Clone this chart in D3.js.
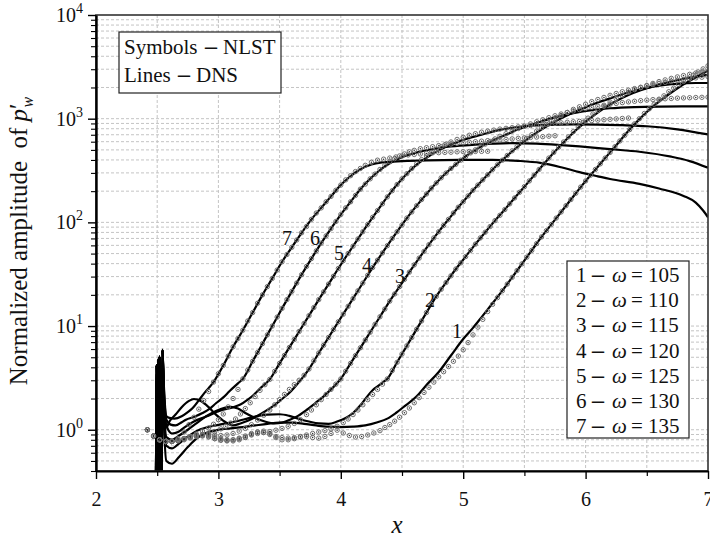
<!DOCTYPE html>
<html>
<head>
<meta charset="utf-8">
<script src="https://cdn.jsdelivr.net/npm/d3@7"></script>
<style>
  body { margin: 0; background: #fff; }
  svg text { font-family: "Liberation Serif", Tinos, "Times New Roman", Times, serif; fill: #111; }
</style>
</head>
<body>
<div id="chart-container"></div>
<script>
// axis ticks
const xTicks = [2, 3, 4, 5, 6, 7];
const xMinorTicks = [2.5, 3.5, 4.5, 5.5, 6.5];
const yDecades = [1, 10, 100, 1000, 10000];

// legend texts
const omegas = [105, 110, 115, 120, 125, 130, 135];
const curveNames = ["1", "2", "3", "4", "5", "6", "7"];
const legendNotes = [["Symbols", "NLST"], ["Lines", "DNS"]];

// where the curve numbers sit (x, amplitude)
const curveLabelAt = [[4.949, 7.71], [4.729, 15.4], [4.484, 26.2], [4.214, 33.4], [3.985, 43.6], [3.789, 60.8], [3.56, 60.8]];

// DNS inlet disturbance, shared by every DNS run
const dnsInlet = [[2.49, 0.3], [2.496, 4.2], [2.502, 0.3], [2.508, 4.8], [2.514, 0.3], [2.52, 5.1], [2.526, 0.3], [2.532, 4.0], [2.537, 0.3], [2.543, 5.9]];

// DNS (lines)
const dns1 = [[2.555,1.3],[2.575,0.5],[2.62,0.47],[2.68,0.55],[2.75,0.68],[2.82,0.82],[2.9,0.93],[3.0,1.0],[3.1,1.03],[3.2,1.06],[3.3,1.1],[3.4,1.14],[3.5,1.17],[3.6,1.17],[3.7,1.14],[3.8,1.1],[3.9,1.07],[4.0,1.06],[4.1,1.07],[4.2,1.1],[4.3,1.18],[4.38,1.28],[4.45,1.45],[4.53,1.72],[4.62,2.1],[4.7,2.7],[4.8,3.6],[4.9,5.2],[5.0,7.5],[5.08,9.6],[5.16,12.6],[5.24,16.6],[5.32,22.0],[5.4,29.5],[5.48,39.8],[5.56,53.7],[5.64,72.4],[5.72,95.5],[5.8,126],[5.88,166],[5.96,219],[6.04,285],[6.12,367],[6.2,473],[6.28,610],[6.36,785],[6.44,990],[6.52,1220],[6.6,1460],[6.68,1720],[6.76,2000],[6.84,2280],[6.92,2580],[7.0,2900]];
const dns2 = [[2.555,1.5],[2.575,0.7],[2.62,0.66],[2.68,0.74],[2.75,0.86],[2.82,0.97],[2.9,1.05],[2.98,1.1],[3.06,1.15],[3.14,1.2],[3.22,1.27],[3.3,1.34],[3.4,1.4],[3.5,1.41],[3.58,1.36],[3.66,1.27],[3.74,1.2],[3.82,1.15],[3.9,1.14],[3.97,1.2],[4.04,1.3],[4.1,1.45],[4.16,1.72],[4.21,2.05],[4.26,2.4],[4.3,2.62],[4.34,2.85],[4.38,3.09],[4.46,4.47],[4.54,6.46],[4.62,9.33],[4.7,13.5],[4.78,19.3],[4.86,26.3],[4.94,35.5],[5.02,46.8],[5.1,61.7],[5.18,80.4],[5.26,104],[5.34,133],[5.42,172],[5.5,221],[5.58,285],[5.66,367],[5.74,470],[5.82,590],[5.9,735],[5.98,890],[6.06,1060],[6.15,1260],[6.25,1480],[6.35,1690],[6.45,1880],[6.55,2050],[6.65,2210],[6.75,2350],[6.85,2480],[6.93,2570],[7.0,2650]];
const dns3 = [[2.555,1.8],[2.575,0.85],[2.62,0.8],[2.68,0.88],[2.75,1.0],[2.82,1.15],[2.9,1.35],[2.98,1.52],[3.05,1.63],[3.1,1.66],[3.16,1.6],[3.22,1.45],[3.3,1.3],[3.38,1.2],[3.46,1.15],[3.52,1.17],[3.585,1.25],[3.65,1.36],[3.72,1.55],[3.79,1.8],[3.86,2.1],[3.92,2.45],[4.0,3.09],[4.08,4.37],[4.16,6.17],[4.24,8.71],[4.32,12.3],[4.4,17.4],[4.48,24.0],[4.56,33.1],[4.64,45.2],[4.72,61.0],[4.8,81.3],[4.88,107],[4.96,140],[5.04,180],[5.12,229],[5.2,288],[5.28,359],[5.36,440],[5.44,530],[5.52,630],[5.6,735],[5.7,870],[5.8,1010],[5.9,1150],[6.0,1290],[6.1,1430],[6.2,1570],[6.3,1720],[6.4,1860],[6.5,1980],[6.6,2080],[6.7,2150],[6.8,2190],[6.9,2210],[7.0,2210]];
const dns4 = [[2.555,2.0],[2.575,1.05],[2.6,1.2],[2.65,1.4],[2.7,1.65],[2.76,1.9],[2.8,1.98],[2.86,1.88],[2.92,1.65],[2.98,1.4],[3.05,1.2],[3.12,1.1],[3.18,1.15],[3.24,1.22],[3.31,1.34],[3.38,1.5],[3.45,1.7],[3.52,1.98],[3.585,2.3],[3.66,2.9],[3.74,3.85],[3.82,5.5],[3.9,7.76],[3.98,11.0],[4.06,15.5],[4.14,21.9],[4.22,30.9],[4.3,43.2],[4.38,59.6],[4.46,81.3],[4.54,110],[4.62,145],[4.7,188],[4.78,240],[4.86,299],[4.94,363],[5.02,432],[5.1,500],[5.18,565],[5.26,630],[5.35,700],[5.45,790],[5.55,870],[5.65,950],[5.75,1030],[5.9,1130],[6.05,1210],[6.2,1260],[6.4,1295],[6.6,1310],[6.8,1315],[7.0,1312]];
const dns5 = [[2.555,2.2],[2.575,1.1],[2.62,0.92],[2.67,0.95],[2.72,1.05],[2.8,1.2],[2.9,1.34],[3.03,1.55],[3.12,1.65],[3.18,1.75],[3.24,1.95],[3.285,2.15],[3.34,2.5],[3.42,3.06],[3.5,4.37],[3.58,6.22],[3.66,8.87],[3.74,12.6],[3.82,18.0],[3.9,25.4],[3.98,35.9],[4.06,50.1],[4.14,69.2],[4.22,95.5],[4.3,130],[4.38,176],[4.46,232],[4.54,295],[4.62,360],[4.7,420],[4.8,495],[4.9,565],[5.0,625],[5.15,700],[5.3,780],[5.5,845],[5.68,871],[5.9,880],[6.1,878],[6.3,865],[6.5,845],[6.75,790],[7.0,705]];
const dns6 = [[2.555,2.4],[2.575,1.25],[2.61,1.12],[2.65,1.1],[2.7,1.18],[2.735,1.25],[2.8,1.33],[2.87,1.45],[2.93,1.6],[2.98,1.8],[3.04,2.05],[3.09,2.35],[3.16,2.8],[3.2,3.1],[3.28,4.57],[3.36,6.76],[3.44,10.0],[3.52,14.8],[3.6,21.6],[3.68,31.3],[3.76,44.7],[3.84,63.1],[3.92,87.1],[4.0,119],[4.08,158],[4.16,209],[4.24,263],[4.32,320],[4.4,372],[4.5,425],[4.6,465],[4.75,510],[4.9,540],[5.1,562],[5.4,580],[5.6,575],[5.8,557],[5.95,540],[6.2,508],[6.44,480],[6.7,430],[6.85,390],[7.0,336]];
const dns7 = [[2.555,2.6],[2.575,1.35],[2.6,1.3],[2.64,1.28],[2.7,1.35],[2.75,1.48],[2.79,1.62],[2.84,1.92],[2.88,2.22],[2.92,2.52],[2.96,2.88],[3.04,4.17],[3.12,6.31],[3.2,9.12],[3.28,13.5],[3.36,20.0],[3.44,28.8],[3.52,41.7],[3.6,57.5],[3.68,79.4],[3.76,107],[3.84,138],[3.92,178],[4.0,229],[4.08,280],[4.16,325],[4.25,362],[4.35,380],[4.5,390],[4.7,397],[4.97,400],[5.24,400],[5.45,392],[5.63,375],[5.8,340],[5.95,305],[6.1,278],[6.2,262],[6.44,235],[6.6,212],[6.8,180],[6.9,155],[6.96,130],[7.0,112]];

// NLST (symbols)
const nlst1 = [[2.42,1.0],[2.47,0.87],[2.52,0.8],[2.57,0.77],[2.62,0.77],[2.67,0.79],[2.72,0.82],[2.77,0.85],[2.82,0.87],[2.87,0.88],[2.92,0.86],[2.97,0.82],[3.02,0.79],[3.07,0.78],[3.12,0.78],[3.17,0.8],[3.22,0.84],[3.27,0.9],[3.32,0.95],[3.37,0.97],[3.42,0.92],[3.47,0.84],[3.52,0.8],[3.57,0.8],[3.62,0.82],[3.67,0.85],[3.72,0.86],[3.77,0.84],[3.82,0.83],[3.87,0.86],[3.92,0.92],[3.97,0.99],[4.02,0.93],[4.07,0.88],[4.12,0.85],[4.17,0.86],[4.22,0.89],[4.27,0.93],[4.32,0.98],[4.36,1.05],[4.4,1.12],[4.44,1.21],[4.48,1.32],[4.52,1.46],[4.56,1.62],[4.6,1.82],[4.64,2.04],[4.68,2.29],[4.72,2.57],[4.76,2.88],[4.8,3.24],[4.84,3.63],[4.88,4.07],[4.92,4.57],[4.96,5.13],[5.0,5.9],[5.04,6.92],[5.08,8.22],[5.12,9.77],[5.16,11.6],[5.2,13.8],[5.24,16.2],[5.28,18.8],[5.32,21.9],[5.36,25.4],[5.4,29.5],[5.44,34.3],[5.48,39.8],[5.52,46.2],[5.56,53.7],[5.6,62.4],[5.64,72.4],[5.68,83.2],[5.72,95.5],[5.76,110],[5.8,126],[5.84,145],[5.88,166],[5.92,191],[5.96,219],[6.0,251],[6.04,285],[6.08,324],[6.12,367],[6.16,417],[6.2,473],[6.24,537],[6.28,610],[6.32,692],[6.36,785],[6.4,891],[6.44,1000],[6.48,1122],[6.52,1245],[6.56,1380],[6.6,1514],[6.64,1660],[6.68,1820],[6.72,1972],[6.76,2138],[6.8,2291],[6.84,2455],[6.88,2630],[6.92,2818],[6.96,3020],[7.0,3236]];
const nlst2 = [[2.42,1.0],[2.47,0.87],[2.52,0.8],[2.57,0.77],[2.62,0.77],[2.67,0.79],[2.72,0.82],[2.77,0.85],[2.82,0.87],[2.87,0.87],[2.92,0.85],[2.97,0.82],[3.02,0.8],[3.07,0.79],[3.12,0.8],[3.17,0.83],[3.22,0.87],[3.27,0.92],[3.32,0.95],[3.37,0.94],[3.42,0.9],[3.47,0.86],[3.52,0.84],[3.57,0.83],[3.62,0.84],[3.67,0.86],[3.72,0.89],[3.77,0.92],[3.82,0.95],[3.87,0.98],[3.92,1.02],[3.97,1.08],[4.02,1.17],[4.06,1.27],[4.1,1.4],[4.14,1.55],[4.18,1.74],[4.22,1.95],[4.26,2.19],[4.3,2.45],[4.34,2.75],[4.38,3.09],[4.42,3.72],[4.46,4.47],[4.5,5.37],[4.54,6.46],[4.58,7.76],[4.62,9.33],[4.66,11.2],[4.7,13.5],[4.74,16.2],[4.78,19.3],[4.82,22.6],[4.86,26.3],[4.9,30.5],[4.94,35.5],[4.98,40.7],[5.02,46.8],[5.06,53.7],[5.1,61.7],[5.14,70.8],[5.18,80.4],[5.22,91.2],[5.26,104],[5.3,117],[5.34,133],[5.38,151],[5.42,172],[5.46,195],[5.5,221],[5.54,251],[5.58,285],[5.62,324],[5.66,367],[5.7,417],[5.74,473],[5.78,531],[5.82,596],[5.86,668],[5.9,750],[5.94,832],[5.98,923],[6.02,1012],[6.06,1109],[6.1,1202],[6.15,1318],[6.2,1445],[6.25,1567],[6.3,1679],[6.35,1799],[6.4,1905],[6.45,1995],[6.5,2089],[6.55,2188],[6.6,2280],[6.65,2366],[6.7,2449],[6.75,2529],[6.8,2606],[6.85,2679],[6.9,2754],[6.95,2818],[7.0,2884]];
const nlst3 = [[2.42,1.0],[2.47,0.87],[2.52,0.8],[2.57,0.77],[2.62,0.77],[2.67,0.79],[2.72,0.82],[2.77,0.86],[2.82,0.89],[2.87,0.9],[2.92,0.88],[2.97,0.85],[3.02,0.82],[3.07,0.8],[3.12,0.8],[3.17,0.82],[3.22,0.85],[3.27,0.89],[3.32,0.92],[3.37,0.94],[3.42,0.96],[3.47,0.99],[3.52,1.03],[3.57,1.08],[3.62,1.15],[3.67,1.25],[3.72,1.4],[3.76,1.55],[3.8,1.74],[3.84,1.95],[3.88,2.19],[3.92,2.45],[3.96,2.75],[4.0,3.09],[4.04,3.67],[4.08,4.37],[4.12,5.19],[4.16,6.17],[4.2,7.33],[4.24,8.71],[4.28,10.4],[4.32,12.3],[4.36,14.6],[4.4,17.4],[4.44,20.4],[4.48,24.0],[4.52,28.2],[4.56,33.1],[4.6,38.9],[4.64,45.2],[4.68,52.5],[4.72,61.0],[4.76,70.8],[4.8,81.3],[4.84,93.3],[4.88,107],[4.92,123],[4.96,140],[5.0,158],[5.04,180],[5.08,204],[5.12,229],[5.16,257],[5.2,288],[5.24,324],[5.28,359],[5.32,398],[5.36,442],[5.4,490],[5.44,537],[5.48,589],[5.52,646],[5.56,700],[5.6,759],[5.64,822],[5.68,881],[5.72,944],[5.76,1012],[5.8,1072],[5.85,1148],[5.9,1230],[5.95,1303],[6.0,1380],[6.05,1462],[6.1,1531],[6.15,1603],[6.2,1679],[6.25,1750],[6.3,1820],[6.35,1884],[6.4,1950],[6.45,2009],[6.5,2070],[6.55,2128],[6.6,2188],[6.65,2239],[6.7,2291],[6.75,2344],[6.8,2388],[6.85,2432],[6.9,2472],[6.95,2512],[7.0,2547]];
const nlst4 = [[2.42,1.0],[2.47,0.87],[2.52,0.8],[2.57,0.77],[2.62,0.77],[2.67,0.79],[2.72,0.82],[2.77,0.85],[2.82,0.88],[2.87,0.9],[2.92,0.9],[2.97,0.89],[3.02,0.88],[3.07,0.89],[3.12,0.92],[3.17,0.97],[3.22,1.03],[3.27,1.12],[3.32,1.24],[3.37,1.38],[3.42,1.55],[3.46,1.74],[3.5,1.95],[3.54,2.19],[3.58,2.45],[3.62,2.72],[3.66,3.0],[3.7,3.35],[3.74,3.85],[3.78,4.62],[3.82,5.5],[3.86,6.53],[3.9,7.76],[3.94,9.23],[3.98,11.0],[4.02,13.0],[4.06,15.5],[4.1,18.4],[4.14,21.9],[4.18,26.0],[4.22,30.9],[4.26,36.7],[4.3,43.2],[4.34,50.7],[4.38,59.6],[4.42,70.0],[4.46,81.3],[4.5,94.4],[4.54,110],[4.58,126],[4.62,145],[4.66,166],[4.7,188],[4.74,214],[4.78,240],[4.82,269],[4.86,299],[4.9,331],[4.94,363],[4.98,398],[5.02,432],[5.06,468],[5.1,501],[5.14,537],[5.18,569],[5.22,603],[5.26,638],[5.3,676],[5.35,716],[5.4,759],[5.45,804],[5.5,847],[5.55,891],[5.6,933],[5.65,977],[5.7,1023],[5.75,1067],[5.8,1109],[5.85,1148],[5.9,1186],[5.95,1222],[6.0,1256],[6.05,1288],[6.1,1318],[6.15,1349],[6.2,1377],[6.25,1403],[6.3,1429],[6.35,1452],[6.4,1472],[6.45,1493],[6.5,1510],[6.55,1528],[6.6,1542],[6.65,1556],[6.7,1567],[6.75,1578],[6.8,1585],[6.85,1592],[6.9,1600],[6.95,1607],[7.0,1614]];
const nlst5 = [[2.42,1.0],[2.47,0.87],[2.52,0.8],[2.57,0.77],[2.62,0.77],[2.67,0.78],[2.72,0.8],[2.77,0.83],[2.82,0.86],[2.87,0.89],[2.92,0.92],[2.97,0.96],[3.02,1.02],[3.06,1.08],[3.1,1.16],[3.14,1.27],[3.18,1.42],[3.22,1.6],[3.26,1.82],[3.3,2.09],[3.34,2.4],[3.38,2.72],[3.42,3.06],[3.46,3.66],[3.5,4.37],[3.54,5.21],[3.58,6.22],[3.62,7.43],[3.66,8.87],[3.7,10.6],[3.74,12.6],[3.78,15.1],[3.82,18.0],[3.86,21.4],[3.9,25.4],[3.94,30.2],[3.98,35.9],[4.02,42.7],[4.06,50.1],[4.1,58.9],[4.14,69.2],[4.18,81.3],[4.22,95.5],[4.26,112],[4.3,130],[4.34,151],[4.38,176],[4.42,202],[4.46,232],[4.5,263],[4.54,295],[4.58,331],[4.62,367],[4.66,403],[4.7,437],[4.74,473],[4.78,507],[4.82,537],[4.86,569],[4.9,596],[4.95,631],[5.0,661],[5.05,692],[5.1,716],[5.15,741],[5.2,759],[5.25,776],[5.3,794],[5.35,807],[5.4,820],[5.45,834],[5.5,847],[5.55,859],[5.6,871],[5.65,881],[5.7,891],[5.75,902],[5.8,912],[5.85,923],[5.9,933],[5.95,942],[6.0,951],[6.05,959],[6.1,968],[6.15,977],[6.2,986],[6.25,995],[6.3,1005],[6.35,1014]];
const nlst6 = [[2.42,1.0],[2.47,0.87],[2.52,0.8],[2.57,0.77],[2.62,0.77],[2.67,0.79],[2.72,0.82],[2.77,0.86],[2.82,0.91],[2.87,0.97],[2.92,1.04],[2.96,1.13],[3.0,1.25],[3.04,1.42],[3.08,1.66],[3.12,2.0],[3.16,2.45],[3.2,3.1],[3.24,3.76],[3.28,4.57],[3.32,5.56],[3.36,6.76],[3.4,8.22],[3.44,10.0],[3.48,12.2],[3.52,14.8],[3.56,18.0],[3.6,21.6],[3.64,26.0],[3.68,31.3],[3.72,37.6],[3.76,44.7],[3.8,53.1],[3.84,63.1],[3.88,74.1],[3.92,87.1],[3.96,102],[4.0,119],[4.04,138],[4.08,158],[4.12,182],[4.16,209],[4.2,234],[4.24,263],[4.28,292],[4.32,324],[4.36,355],[4.4,385],[4.44,412],[4.48,437],[4.52,457],[4.56,479],[4.6,495],[4.65,513],[4.7,525],[4.75,537],[4.8,550],[4.85,560],[4.9,569],[4.95,578],[5.0,586],[5.05,593],[5.1,600],[5.15,607],[5.2,614],[5.25,619],[5.3,625],[5.35,631],[5.4,638],[5.45,646],[5.5,653],[5.55,659],[5.6,665],[5.65,671],[5.7,678],[5.75,684]];
const nlst7 = [[2.42,1.0],[2.47,0.87],[2.52,0.8],[2.57,0.77],[2.62,0.78],[2.67,0.82],[2.72,0.95],[2.76,1.12],[2.8,1.32],[2.84,1.58],[2.88,1.91],[2.92,2.34],[2.96,2.88],[3.0,3.47],[3.04,4.17],[3.08,5.13],[3.12,6.31],[3.16,7.59],[3.2,9.12],[3.24,11.2],[3.28,13.5],[3.32,16.6],[3.36,20.0],[3.4,24.0],[3.44,28.8],[3.48,34.7],[3.52,41.7],[3.56,49.0],[3.6,57.5],[3.64,67.6],[3.68,79.4],[3.72,91.2],[3.76,107],[3.8,123],[3.84,138],[3.88,158],[3.92,178],[3.96,204],[4.0,229],[4.04,257],[4.08,282],[4.12,309],[4.16,331],[4.2,355],[4.25,380],[4.3,398],[4.35,407],[4.4,417],[4.45,427],[4.5,437],[4.55,447],[4.6,452],[4.65,457],[4.7,462],[4.75,468],[4.8,470],[4.85,473],[4.9,475],[4.95,479],[5.0,481],[5.05,482],[5.1,483],[5.15,484],[5.2,485]];

const dnsRuns = [dns1, dns2, dns3, dns4, dns5, dns6, dns7];
const nlstRuns = [nlst1, nlst2, nlst3, nlst4, nlst5, nlst6, nlst7];

const serif = "'Liberation Serif', Tinos, 'Times New Roman', Times, serif";

function drawChart() {
  d3.select("#chart-container").selectAll("*").remove();
  const fullWidth = 710;
  const fullHeight = 540;
  const margin = { top: 15, right: 2, bottom: 69, left: 96 };
  const width = fullWidth - margin.left - margin.right;
  const height = fullHeight - margin.top - margin.bottom;

  const x = d3.scaleLinear().domain([2, 7]).range([0, width]);
  const y = d3.scaleLog().domain([0.4, 10000]).range([height, 0]);

  const root = d3
    .select("#chart-container")
    .append("svg")
    .attr("width", fullWidth)
    .attr("height", fullHeight)
    .attr("font-family", serif);

  const svg = root.append("g").attr("transform", `translate(${margin.left}, ${margin.top})`);

  svg.append("clipPath").attr("id", "plot-clip")
    .append("rect").attr("width", width).attr("height", height);

  //Add vertical grid lines
  svg.selectAll(".xGrid")
    .data(x.ticks(10).filter((d) => d > 2 && d < 7))
    .join("line")
    .attr("class", "xGrid")
    .attr("x1", (d) => x(d))
    .attr("x2", (d) => x(d))
    .attr("y1", 0)
    .attr("y2", height)
    .attr("stroke", "#c4c4c4")
    .attr("stroke-width", 1)
    .attr("stroke-dasharray", "3,2");

  //Add horizontal grid lines (every log tick)
  svg.selectAll(".yGrid")
    .data(y.ticks().filter((d) => d > 0.4 && d < 10000))
    .join("line")
    .attr("class", "yGrid")
    .attr("x1", 0)
    .attr("x2", width)
    .attr("y1", (d) => y(d))
    .attr("y2", (d) => y(d))
    .attr("stroke", "#c4c4c4")
    .attr("stroke-width", 1)
    .attr("stroke-dasharray", "3,2");

  const plot = svg.append("g").attr("clip-path", "url(#plot-clip)");

  //DNS lines
  const line = d3.line()
    .x((d) => x(d[0]))
    .y((d) => y(d[1]))
    .curve(d3.curveMonotoneX);

  plot.selectAll(".dns")
    .data(dnsRuns)
    .join("path")
    .attr("class", "dns")
    .attr("fill", "none")
    .attr("stroke", "#000")
    .attr("stroke-width", 2.2)
    .attr("stroke-linejoin", "round")
    .attr("d", (d) => line(dnsInlet.concat(d)));

  //NLST symbols
  const symbols = plot.selectAll(".nlst")
    .data(nlstRuns)
    .join("g")
    .attr("class", "nlst");

  symbols.selectAll("circle.ring")
    .data((d) => d)
    .join("circle")
    .attr("class", "ring")
    .attr("cx", (d) => x(d[0]))
    .attr("cy", (d) => y(d[1]))
    .attr("r", 2.2)
    .attr("fill", "none")
    .attr("stroke", "#6e6e6e")
    .attr("stroke-width", 1);

  symbols.selectAll("circle.dot")
    .data((d) => d)
    .join("circle")
    .attr("class", "dot")
    .attr("cx", (d) => x(d[0]))
    .attr("cy", (d) => y(d[1]))
    .attr("r", 0.75)
    .attr("fill", "#333");

  //Curve numbers
  svg.selectAll(".curveName")
    .data(curveNames)
    .join("text")
    .attr("class", "curveName")
    .attr("x", (d, i) => x(curveLabelAt[i][0]))
    .attr("y", (d, i) => y(curveLabelAt[i][1]))
    .attr("text-anchor", "middle")
    .style("font-size", "20px")
    .text((d) => d);

  //Frame
  svg.append("rect")
    .attr("width", width)
    .attr("height", height)
    .attr("fill", "none")
    .attr("stroke", "#333")
    .attr("stroke-width", 1.6);

  //Add the x-axis
  const xAxis = svg.append("g")
    .attr("transform", `translate(0, ${height})`)
    .call(d3.axisBottom(x).tickValues(xTicks).tickSize(8).tickSizeOuter(0).tickFormat(d3.format("d")))
    .attr("font-family", serif);
  xAxis.select(".domain").attr("stroke-width", 2.2);
  xAxis.selectAll(".tick line").attr("stroke-width", 1.4);
  xAxis.selectAll(".tick text")
    .attr("y", 35)
    .attr("dy", 0)
    .style("font-size", "20px")
    .attr("fill", "#111");

  svg.append("g")
    .attr("transform", `translate(0, ${height})`)
    .call(d3.axisBottom(x).tickValues(xMinorTicks).tickSize(5).tickSizeOuter(0).tickFormat(""))
    .call((g) => g.select(".domain").remove())
    .selectAll(".tick line").attr("stroke-width", 1.2);

  //Add the y-axis
  const yAxis = svg.append("g")
    .call(d3.axisLeft(y).tickValues(yDecades).tickSize(8).tickPadding(5).tickSizeOuter(0).tickFormat(() => ""))
    .attr("font-family", serif);
  yAxis.select(".domain").attr("stroke-width", 2.4);
  yAxis.selectAll(".tick line").attr("stroke-width", 1.4);
  yAxis.selectAll(".tick text")
    .attr("dy", "0.33em")
    .attr("fill", "#111")
    .style("font-size", "20px")
    .each(function (d) {
      const t = d3.select(this);
      t.append("tspan").text("10");
      t.append("tspan").attr("dy", -9).style("font-size", "14px").text(Math.round(Math.log10(d)));
    });

  svg.append("g")
    .call(d3.axisLeft(y).tickValues(y.ticks().filter((d) => yDecades.indexOf(d) < 0)).tickSize(5).tickSizeOuter(0).tickFormat(""))
    .call((g) => g.select(".domain").remove())
    .selectAll(".tick line").attr("stroke-width", 1.1);

  //Axis titles
  root.append("text")
    .attr("x", 397)
    .attr("y", 533)
    .attr("text-anchor", "middle")
    .style("font-size", "25px")
    .style("font-style", "italic")
    .text("x");

  const yTitle = root.append("text")
    .attr("transform", "translate(27, 241) rotate(-90)")
    .attr("text-anchor", "middle")
    .style("font-size", "25px")
    .style("white-space", "pre");
  yTitle.append("tspan").text("Normalized amplitude  of ");
  yTitle.append("tspan").style("font-style", "italic").text("p");
  yTitle.append("tspan").text("\u2032");
  yTitle.append("tspan").attr("dx", -4).attr("dy", 6).style("font-size", "16px").style("font-style", "italic").text("w");

  //Legend: symbols / lines
  const noteDash = [86, 59];
  const noteBox = root.append("g").attr("transform", "translate(119, 32)");
  noteBox.append("rect")
    .attr("width", 162)
    .attr("height", 61)
    .attr("fill", "#fff")
    .attr("stroke", "#222")
    .attr("stroke-width", 1.2);
  noteBox.selectAll("text")
    .data(legendNotes)
    .join("text")
    .attr("y", (d, i) => 22 + i * 28)
    .style("font-size", "21px")
    .each(function (d, i) {
      const t = d3.select(this);
      t.append("tspan").attr("x", 5).text(d[0]);
      t.append("tspan").attr("x", noteDash[i]).style("font-weight", "bold").style("font-size", "24px").text("\u2013");
      t.append("tspan").attr("x", noteDash[i] + 18).text(d[1]);
    });

  //Legend: frequencies
  const freqBox = root.append("g").attr("transform", "translate(567, 261)");
  freqBox.append("rect")
    .attr("width", 122)
    .attr("height", 177)
    .attr("fill", "#fff")
    .attr("stroke", "#222")
    .attr("stroke-width", 1.2);
  freqBox.selectAll("text")
    .data(omegas)
    .join("text")
    .attr("y", (d, i) => 21 + i * 25.2)
    .style("font-size", "21px")
    .each(function (d, i) {
      const t = d3.select(this);
      t.append("tspan").attr("x", 9).text(curveNames[i]);
      t.append("tspan").attr("x", 25).style("font-weight", "bold").style("font-size", "24px").text("\u2013");
      t.append("tspan").attr("x", 45).style("font-style", "italic").text("\u03c9");
      t.append("tspan").attr("x", 64).text("=");
      t.append("tspan").attr("x", 81).text(d);
    });
}

drawChart();
</script>
</body>
</html>
